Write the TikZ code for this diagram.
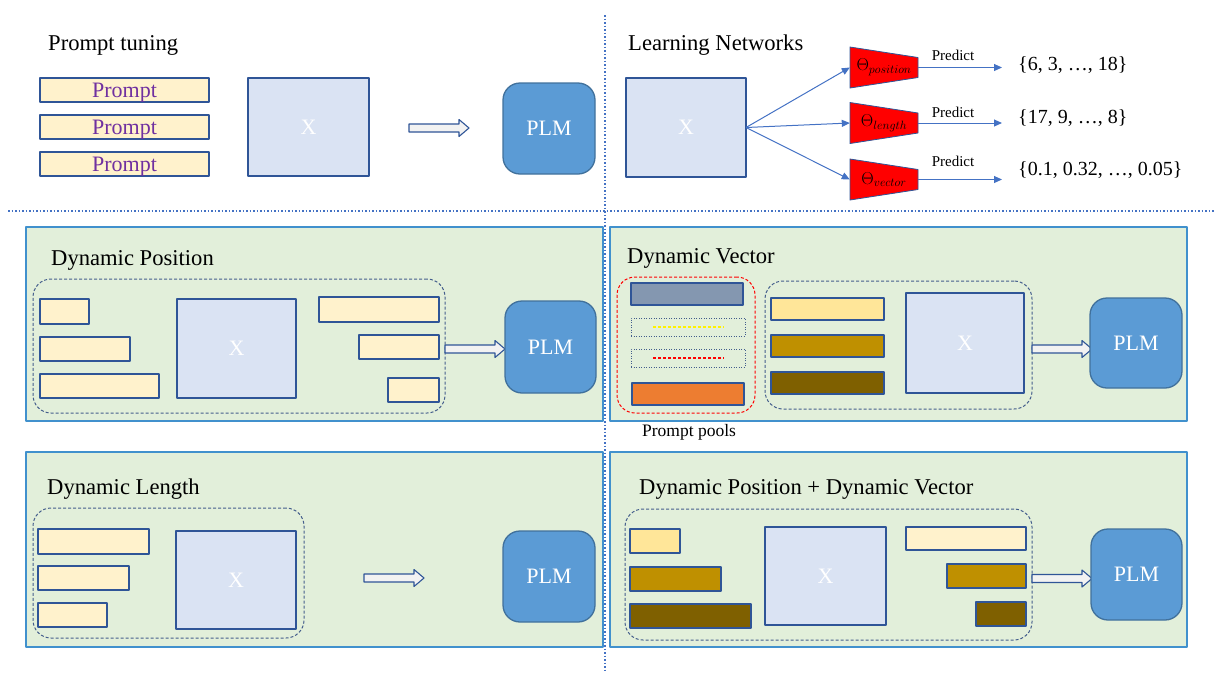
\documentclass[tikz,border=0pt]{standalone}
\usepackage{fontspec}
\setmainfont{Liberation Serif}
\usetikzlibrary{arrows.meta}

\definecolor{promptFill}{RGB}{255,242,204}
\definecolor{promptPurple}{RGB}{112,48,160}
\definecolor{barLine}{RGB}{47,85,151}
\definecolor{xFill}{RGB}{218,227,243}
\definecolor{plmFill}{RGB}{91,155,213}
\definecolor{plmLine}{RGB}{65,113,156}
\definecolor{panelFill}{RGB}{226,239,218}
\definecolor{panelLine}{RGB}{65,145,205}
\definecolor{grpLine}{RGB}{68,94,140}
\definecolor{arrFill}{RGB}{242,242,242}
\definecolor{netBlue}{RGB}{68,114,196}
\definecolor{goldA}{RGB}{255,230,153}
\definecolor{goldB}{RGB}{191,144,0}
\definecolor{goldC}{RGB}{127,96,0}
\definecolor{poolGray}{RGB}{132,151,176}
\definecolor{poolOrange}{RGB}{237,125,49}

\begin{document}
\begin{tikzpicture}[x=1pt, y=-1pt, line join=round,
  boxbase/.style={inner sep=0pt, outer sep=0pt, anchor=north west},
  pbar/.style={boxbase, draw=barLine, line width=1.3pt, fill=promptFill},
  gbar/.style={boxbase, draw=barLine, line width=1.3pt, fill=#1},
  ptxt/.style={text=promptPurple, text depth=0pt, font=\fontsize{22}{26}\selectfont},
  xbox/.style={boxbase, draw=barLine, line width=1.3pt, fill=xFill, text=white, font=\fontsize{22}{26}\selectfont},
  plmbox/.style={boxbase, draw=plmLine, line width=1.3pt, fill=plmFill, rounded corners=17pt, text=white, font=\fontsize{22}{26}\selectfont},
  panelbox/.style={boxbase, draw=panelLine, line width=1.5pt, fill=panelFill},
  grpbox/.style={boxbase, draw=grpLine, line width=1pt, dash pattern=on 3pt off 2pt, rounded corners=18pt},
  pooldot/.style={boxbase, draw=grpLine, line width=1pt, dash pattern=on 1pt off 1.5pt},
  headtxt/.style={anchor=west, inner sep=0pt, font=\fontsize{22.6}{26}\selectfont},
  blockarr/.style={draw=barLine, fill=arrFill, line width=1.1pt},
  netarr/.style={draw=netBlue, line width=1pt, -{Triangle[length=8pt,width=7pt]}},
  trap/.style={fill=red, draw=barLine, line width=0.8pt},
  thnode/.style={inner sep=0pt, minimum width=68pt, minimum height=41pt, font=\fontsize{17}{20}\selectfont},
  predtxt/.style={inner sep=0pt, font=\fontsize{15}{18}\selectfont},
  settxt/.style={anchor=west, inner sep=0pt, font=\fontsize{20}{24}\selectfont},
  divider/.style={draw=netBlue, line width=1.5pt, dotted}]
\useasboundingbox (0,0) rectangle (1229,673);

% Prompt tuning
\node[headtxt] (ptTitle) at (48,45) {Prompt tuning};
\node[pbar, ptxt, minimum width=169pt, minimum height=24pt] (ptBar1) at (40,78) {Prompt};
\node[pbar, ptxt, minimum width=169pt, minimum height=24pt] (ptBar2) at (40,115) {Prompt};
\node[pbar, ptxt, minimum width=169pt, minimum height=24pt] (ptBar3) at (40,152) {Prompt};
\node[xbox, minimum width=121pt, minimum height=98pt] (ptX) at (248,78) {X};
\coordinate (ptArr) at (409,128);
\draw[blockarr] ([yshift=4pt]ptArr) -- ++(50,0) -- ++(0,-4.5) -- ++(10,8.5) -- ++(-10,8.5) -- ++(0,-4.5) -- ++(-50,0) -- cycle;
\node[plmbox, minimum width=92pt, minimum height=91pt] (ptPLM) at (503,83) {PLM};

% Learning networks
\node[headtxt] (lnTitle) at (628,45) {Learning Networks};
\node[xbox, minimum width=120pt, minimum height=99pt] (lnX) at (626,78) {X};
\draw[trap] (850,47) -- (918,57.5) -- (918,77.5) -- (850,88) -- cycle;
\draw[trap] (850,102.5) -- (918,113) -- (918,133) -- (850,143.5) -- cycle;
\draw[trap] (850,159) -- (918,169.5) -- (918,189.5) -- (850,200) -- cycle;
\node[thnode] (thPos) at (884,67.5) {$\Theta_{position}$};
\node[thnode] (thLen) at (884,123) {$\Theta_{length}$};
\node[thnode] (thVec) at (884,179.5) {$\Theta_{vector}$};
\draw[netarr] (lnX.east) -- (thPos.west);
\draw[netarr] (lnX.east) -- (thLen.west);
\draw[netarr] (lnX.east) -- (thVec.west);
\coordinate (outPos) at (1002,67.5);
\coordinate (outLen) at (1002,123);
\coordinate (outVec) at (1002,179.5);
\draw[netarr] (thPos.east) -- (outPos);
\draw[netarr] (thLen.east) -- (outLen);
\draw[netarr] (thVec.east) -- (outVec);
\node[predtxt] (predPos) at (953,55) {Predict};
\node[predtxt] (predLen) at (953,112) {Predict};
\node[predtxt] (predVec) at (953,161) {Predict};
\node[settxt] (setPos) at (1018,65) {\{6, 3, \ldots, 18\}};
\node[settxt] (setLen) at (1018,118) {\{17, 9, \ldots, 8\}};
\node[settxt] (setVec) at (1018,170) {\{0.1, 0.32, \ldots, 0.05\}};

% Dividers
\draw[divider] (605,15) -- (605,673);
\draw[divider] (8,211) -- (1215,211);

% Dynamic Position
\node[panelbox, minimum width=577pt, minimum height=194pt] (dpPanel) at (26,227) {};
\node[headtxt] (dpTitle) at (51,260) {Dynamic Position};
\node[grpbox, minimum width=412pt, minimum height=134pt] (dpGrp) at (33,279) {};
\node[pbar, minimum width=49pt, minimum height=25pt] (dpL1) at (40,299) {};
\node[pbar, minimum width=90pt, minimum height=24pt] (dpL2) at (40,337) {};
\node[pbar, minimum width=119pt, minimum height=24pt] (dpL3) at (40,374) {};
\node[xbox, minimum width=119pt, minimum height=99pt] (dpX) at (177,299) {X};
\node[pbar, minimum width=120pt, minimum height=25pt] (dpR1) at (319,297) {};
\node[pbar, minimum width=80pt, minimum height=24pt] (dpR2) at (359,335) {};
\node[pbar, minimum width=51pt, minimum height=24pt] (dpR3) at (388,378) {};
\draw[blockarr] ([yshift=1pt]dpGrp.east) -- ++(50,0) -- ++(0,-4.5) -- ++(10,8.5) -- ++(-10,8.5) -- ++(0,-4.5) -- ++(-50,0) -- cycle;
\node[plmbox, minimum width=91pt, minimum height=92pt] (dpPLM) at (505,301) {PLM};

% Dynamic Vector
\node[panelbox, minimum width=577pt, minimum height=194pt] (dvPanel) at (610,227) {};
\node[headtxt] (dvTitle) at (627,258) {Dynamic Vector};
\node[grpbox, draw=red, minimum width=138pt, minimum height=136pt] (dvPool) at (617,277) {};
\node[gbar=poolGray, minimum width=112pt, minimum height=22pt] (pool1) at (631,283) {};
\node[pooldot, minimum width=114pt, minimum height=18pt] (pool2) at (631,318) {};
\node[pooldot, minimum width=114pt, minimum height=18pt] (pool3) at (631,349) {};
\node[gbar=poolOrange, minimum width=112pt, minimum height=22pt] (pool4) at (632,383) {};
\draw[yellow, line width=2.5pt, dash pattern=on 2.5pt off 2.5pt] ([xshift=22pt]pool2.west) -- ([xshift=-21pt]pool2.east);
\draw[red, line width=2.5pt, dash pattern=on 2.5pt off 2.5pt] ([xshift=22pt]pool3.west) -- ([xshift=-21pt]pool3.east);
\node[font=\fontsize{17.5}{20}\selectfont, inner sep=0pt] (poolTxt) at (689,432) {Prompt pools};
\node[grpbox, minimum width=267pt, minimum height=128pt] (dvGrp) at (765,281) {};
\node[gbar=goldA, minimum width=113pt, minimum height=22pt] (dvB1) at (771,298) {};
\node[gbar=goldB, minimum width=113pt, minimum height=22pt] (dvB2) at (771,335) {};
\node[gbar=goldC, minimum width=113pt, minimum height=22pt] (dvB3) at (771,372) {};
\node[xbox, minimum width=118pt, minimum height=100pt] (dvX) at (906,293) {X};
\draw[blockarr] ([yshift=0pt]dvGrp.east) -- ++(50,0) -- ++(0,-4.5) -- ++(10,8.5) -- ++(-10,8.5) -- ++(0,-4.5) -- ++(-50,0) -- cycle;
\node[plmbox, minimum width=92pt, minimum height=90pt] (dvPLM) at (1090,298) {PLM};

% Dynamic Length
\node[panelbox, minimum width=577pt, minimum height=195pt] (dlPanel) at (26,452) {};
\node[headtxt] (dlTitle) at (47,489) {Dynamic Length};
\node[grpbox, minimum width=271pt, minimum height=130pt] (dlGrp) at (33,508) {};
\node[pbar, minimum width=111pt, minimum height=25pt] (dlB1) at (38,529) {};
\node[pbar, minimum width=91pt, minimum height=24pt] (dlB2) at (38,566) {};
\node[pbar, minimum width=69pt, minimum height=24pt] (dlB3) at (38,603) {};
\node[xbox, minimum width=120pt, minimum height=98pt] (dlX) at (176,531) {X};
\coordinate (dlArr) at (364,578);
\draw[blockarr] ([yshift=4pt]dlArr) -- ++(50,0) -- ++(0,-4.5) -- ++(10,8.5) -- ++(-10,8.5) -- ++(0,-4.5) -- ++(-50,0) -- cycle;
\node[plmbox, minimum width=92pt, minimum height=91pt] (dlPLM) at (503,531) {PLM};

% Dynamic Position + Dynamic Vector
\node[panelbox, minimum width=577pt, minimum height=195pt] (pvPanel) at (610,452) {};
\node[headtxt] (pvTitle) at (639,489) {Dynamic Position + Dynamic Vector};
\node[grpbox, minimum width=407pt, minimum height=131pt] (pvGrp) at (625,509) {};
\node[gbar=goldA, minimum width=50pt, minimum height=24pt] (pvL1) at (630,529) {};
\node[gbar=goldB, minimum width=91pt, minimum height=24pt] (pvL2) at (630,567) {};
\node[gbar=goldC, minimum width=121pt, minimum height=24pt] (pvL3) at (630,604) {};
\node[xbox, minimum width=121pt, minimum height=98pt] (pvX) at (765,527) {X};
\node[gbar=promptFill, minimum width=120pt, minimum height=23pt] (pvR1) at (906,527) {};
\node[gbar=goldB, minimum width=79pt, minimum height=24pt] (pvR2) at (947,564) {};
\node[gbar=goldC, minimum width=50pt, minimum height=24pt] (pvR3) at (976,602) {};
\draw[blockarr] ([yshift=0pt]pvGrp.east) -- ++(50,0) -- ++(0,-4.5) -- ++(10,8.5) -- ++(-10,8.5) -- ++(0,-4.5) -- ++(-50,0) -- cycle;
\node[plmbox, minimum width=91pt, minimum height=91pt] (pvPLM) at (1091,529) {PLM};
\end{tikzpicture}
\end{document}
